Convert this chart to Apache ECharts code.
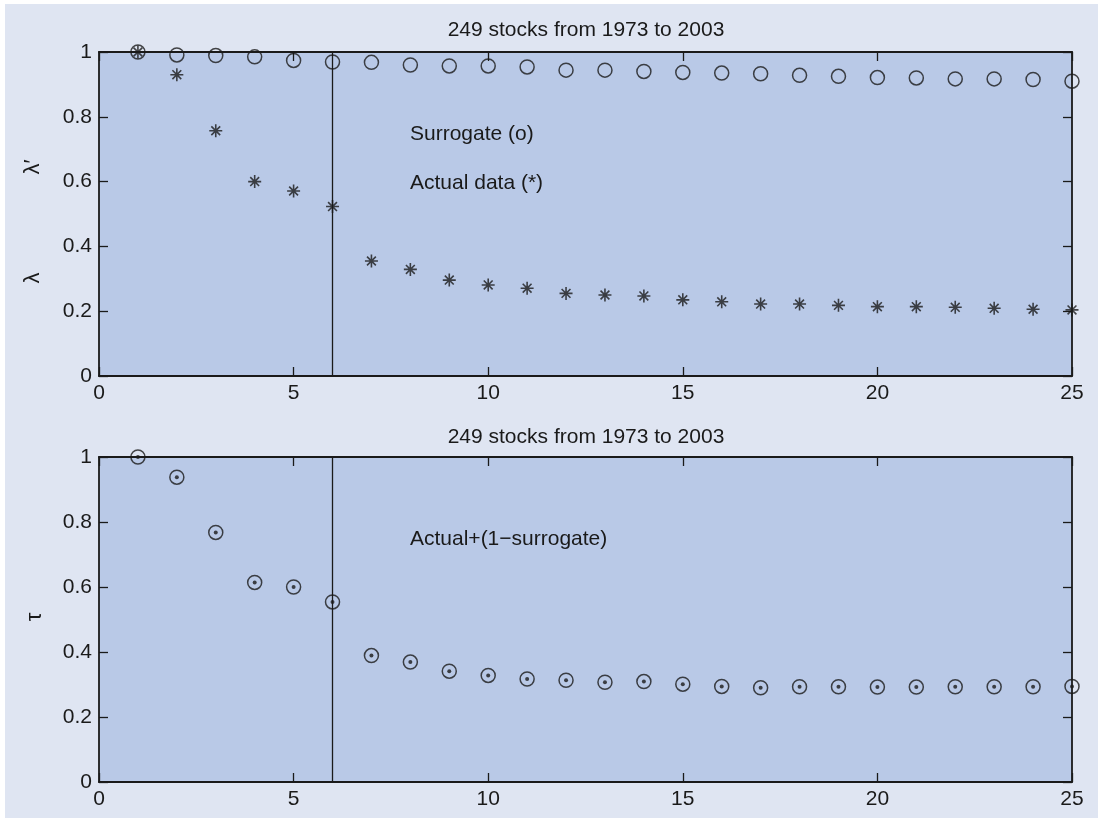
<!DOCTYPE html>
<html>
<head>
<meta charset="utf-8">
<script src="https://cdn.jsdelivr.net/npm/echarts@6/dist/echarts.min.js"></script>
<style>
  html, body { margin: 0; padding: 0; background: #ffffff; }
  #chart { width: 1098px; height: 818px; }
</style>
</head>
<body>
<div id="chart"></div>
<script>
// Lag index (number of eigen-directions kept)
const steps = [1, 2, 3, 4, 5, 6, 7, 8, 9, 10, 11, 12, 13, 14, 15, 16, 17, 18, 19, 20, 21, 22, 23, 24, 25];
// Surrogate spectrum (o)
const surrogate = [1.000, 0.991, 0.989, 0.985, 0.974, 0.969, 0.968, 0.960, 0.957, 0.957, 0.954, 0.944, 0.944,
                   0.940, 0.937, 0.935, 0.933, 0.928, 0.925, 0.921, 0.920, 0.917, 0.917, 0.915, 0.910];
// Actual data (*)
const actual = [1.000, 0.930, 0.757, 0.600, 0.571, 0.523, 0.355, 0.329, 0.296, 0.281, 0.271, 0.255, 0.250,
                0.247, 0.235, 0.229, 0.222, 0.222, 0.218, 0.214, 0.214, 0.212, 0.209, 0.206, 0.204];
// Actual + (1 - surrogate)
const combined = [1.000, 0.938, 0.768, 0.614, 0.600, 0.554, 0.389, 0.369, 0.341, 0.328, 0.317, 0.313, 0.307,
                  0.309, 0.301, 0.294, 0.290, 0.293, 0.293, 0.292, 0.292, 0.293, 0.293, 0.293, 0.294];
const cutoff = 6;
const panelTitle = '249 stocks from 1973 to 2003';
const xTicks = [0, 25, 5];   // min, max, interval
const yTicks = [0, 1, 0.2];

const FONT = '"Liberation Sans", Arial, Helvetica, sans-serif';
const INK = '#1a1a1a';
const PLOT_BG = '#b9c9e7';
const PAGE_BG = '#dfe5f2';
const FS = 21;

const pts = (ys) => steps.map((x, i) => [x, ys[i]]);

const chart = echarts.init(document.getElementById('chart'), null, { renderer: 'canvas' });

const grids = [
  { left: 99, right: 26, top: 52, height: 324 },
  { left: 99, right: 26, top: 457, height: 325 }
];

function xAxes(gridIndex) {
  const base = {
    type: 'value', gridIndex, min: xTicks[0], max: xTicks[1], interval: xTicks[2],
    axisLine: { show: true, onZero: false, lineStyle: { color: INK, width: 1.8 } },
    axisTick: { show: true, inside: true, length: 9, lineStyle: { color: INK, width: 1.3 } },
    splitLine: { show: false }
  };
  return [
    Object.assign({}, base, {
      position: 'bottom',
      axisLabel: { show: true, color: INK, fontSize: FS, fontFamily: FONT, margin: 7 }
    }),
    Object.assign({}, base, { position: 'top', axisLabel: { show: false } })
  ];
}

function yAxes(gridIndex) {
  const base = {
    type: 'value', gridIndex, min: yTicks[0], max: yTicks[1], interval: yTicks[2],
    axisLine: { show: true, onZero: false, lineStyle: { color: INK, width: 1.8 } },
    axisTick: { show: true, inside: true, length: 9, lineStyle: { color: INK, width: 1.3 } },
    splitLine: { show: false }
  };
  return [
    Object.assign({}, base, {
      position: 'left',
      axisLabel: { show: true, color: INK, fontSize: FS, fontFamily: FONT, margin: 7 }
    }),
    Object.assign({}, base, { position: 'right', axisLabel: { show: false } })
  ];
}

const cutoffLine = {
  silent: true,
  symbol: ['none', 'none'],
  label: { show: false },
  lineStyle: { color: INK, width: 1.3, type: 'solid' },
  data: [{ xAxis: cutoff }]
};

const openCircle = {
  color: 'transparent', borderColor: INK, borderWidth: 1.5
};
const starPath = 'path://M5,0L5,10M0,5L10,5M1.6,1.6L8.4,8.4M1.6,8.4L8.4,1.6';

const textStyle = (size) => ({ fill: INK, font: size + 'px ' + FONT });

const option = {
  animation: false,
  backgroundColor: '#ffffff',
  grid: grids.map(g => Object.assign({ show: true, backgroundColor: PLOT_BG, borderWidth: 0 }, g)),
  xAxis: [...xAxes(0), ...xAxes(1)],
  yAxis: [...yAxes(0), ...yAxes(1)],
  series: [
    {
      name: 'Surrogate', type: 'scatter', xAxisIndex: 0, yAxisIndex: 0, clip: false,
      symbol: 'circle', symbolSize: 14, itemStyle: openCircle,
      data: pts(surrogate), markLine: cutoffLine, z: 3
    },
    {
      name: 'Actual data', type: 'scatter', xAxisIndex: 0, yAxisIndex: 0, clip: false,
      symbol: starPath, symbolSize: 13,
      itemStyle: { color: 'transparent', borderColor: INK, borderWidth: 1.6 },
      data: pts(actual), z: 4
    },
    {
      name: 'Actual+(1-surrogate)', type: 'scatter', xAxisIndex: 2, yAxisIndex: 2, clip: false,
      symbol: 'circle', symbolSize: 14, itemStyle: openCircle,
      data: pts(combined), markLine: cutoffLine, z: 3
    },
    {
      name: 'Actual+(1-surrogate) centre', type: 'scatter', xAxisIndex: 2, yAxisIndex: 2, clip: false,
      symbol: 'circle', symbolSize: 4, itemStyle: { color: INK },
      data: pts(combined), z: 4
    }
  ],
  graphic: [
    { type: 'rect', z: -10, silent: true, shape: { x: 5, y: 4, width: 1093, height: 814 }, style: { fill: PAGE_BG } },
    { type: 'text', x: 586, y: 30, style: Object.assign({ text: panelTitle, textAlign: 'center', textVerticalAlign: 'middle' }, textStyle(FS)) },
    { type: 'text', x: 586, y: 437, style: Object.assign({ text: panelTitle, textAlign: 'center', textVerticalAlign: 'middle' }, textStyle(FS)) },
    { type: 'text', x: 410, y: 134, style: Object.assign({ text: 'Surrogate (o)', textAlign: 'left', textVerticalAlign: 'middle' }, textStyle(FS)) },
    { type: 'text', x: 410, y: 183, style: Object.assign({ text: 'Actual data (*)', textAlign: 'left', textVerticalAlign: 'middle' }, textStyle(FS)) },
    { type: 'text', x: 410, y: 539, style: Object.assign({ text: 'Actual+(1\u2212surrogate)', textAlign: 'left', textVerticalAlign: 'middle' }, textStyle(FS)) },
    { type: 'text', x: 33, y: 167, rotation: Math.PI / 2, style: Object.assign({ text: '\u03bb\u2032', textAlign: 'center', textVerticalAlign: 'middle' }, textStyle(22)) },
    { type: 'text', x: 33, y: 278, rotation: Math.PI / 2, style: Object.assign({ text: '\u03bb', textAlign: 'center', textVerticalAlign: 'middle' }, textStyle(22)) },
    { type: 'text', x: 35, y: 617, rotation: Math.PI / 2, style: Object.assign({ text: '\u03c4', textAlign: 'center', textVerticalAlign: 'middle' }, textStyle(22)) }
  ]
};

chart.setOption(option);
</script>
</body>
</html>
